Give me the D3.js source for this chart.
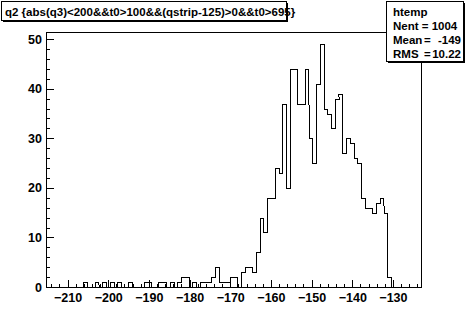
<!DOCTYPE html>
<html>
<head>
<meta charset="utf-8">
<script src="https://cdn.jsdelivr.net/npm/d3@7"></script>
<style>
body { margin: 0; background: #fff; }
text { font-family: "Liberation Sans", Arial, sans-serif; font-weight: bold; }
</style>
</head>
<body>
<script>

// histogram range (100 bins between these)
var binLow = -215.3, binHigh = -123.1;

// bin contents
var counts = [
    0, 0, 0, 0, 0, 0, 0, 0, 0, 0,
    1, 0, 0, 1, 0, 1, 0, 1, 0, 1,
    0, 0, 1, 0, 0, 0, 1, 1, 0, 0,
    1, 1, 0, 1, 0, 1, 2, 2, 0, 1,
    0, 1, 1, 1, 2, 4, 1, 1, 1, 2,
    2, 0, 3, 4, 4, 3, 7, 14, 11, 18,
    18, 24, 23, 37, 20, 44, 44, 37, 37, 44,
    30, 25, 41, 49, 36, 35, 32, 38, 39, 27,
    30, 29, 26, 25, 18, 16, 16, 15, 17, 18,
    15, 2, 0, 0, 0, 0, 0, 0, 0, 0
];

var xTicks = [-210, -200, -190, -180, -170, -160, -150, -140, -130];
var yTicks = [0, 10, 20, 30, 40, 50];

var histTitle = "q2 {abs(q3)<200&&t0>100&&(qstrip-125)>0&&t0>695}";
var histName = "htemp";
var statNames = ["Nent", "Mean", "RMS"];
var statValues = ["1004", "-149", "10.22"];

var W = 469, H = 320;
var frame = { left: 46, right: 421, top: 32, bottom: 287 };

var svg = d3.select("body").append("svg")
    .attr("width", W)
    .attr("height", H)
    .style("display", "block");

var x = d3.scaleLinear().domain([binLow, binHigh]).range([frame.left, frame.right]);
var yMax = d3.max(counts) * 1.05;
var y = d3.scaleLinear().domain([0, yMax]).range([frame.bottom, frame.top]);

// frame
svg.append('rect')
    .attr('x', frame.left + 0.5).attr('y', frame.top + 0.5)
    .attr('width', frame.right - frame.left).attr('height', frame.bottom - frame.top)
    .attr('fill', 'white').attr('stroke', 'black').attr('shape-rendering', 'crispEdges');

// histogram outline as steps
var binWidth = (binHigh - binLow) / counts.length;
var points = [[x(binLow), y(0)]];
counts.forEach(function (c, i) {
    var lo = binLow + i * binWidth;
    points.push([x(lo), y(c)]);
    points.push([x(lo + binWidth), y(c)]);
});
points.push([x(binHigh), y(0)]);

var lineGenerator = d3.line()
    .x(function (d) { return Math.round(d[0]) + 0.5; })
    .y(function (d) { return Math.round(d[1]) + 0.5; });

svg.append('path')
    .attr('d', lineGenerator(points))
    .attr('fill', 'none').attr('stroke', 'black').attr('stroke-width', 1)
    .attr('shape-rendering', 'crispEdges');

// axes, ticks pointing inwards
var xMinor = svg.append('g').attr('transform', 'translate(0,' + frame.bottom + ')')
    .call(d3.axisBottom(x).ticks(50).tickSize(-3.5).tickSizeOuter(0).tickFormat(''));
var xAxis = svg.append('g').attr('transform', 'translate(0,' + frame.bottom + ')')
    .call(d3.axisBottom(x).tickValues(xTicks).tickSize(-7).tickSizeOuter(0).tickPadding(6));

var yMinor = svg.append('g').attr('transform', 'translate(' + frame.left + ',0)')
    .call(d3.axisLeft(y).ticks(26).tickSize(-4).tickSizeOuter(0).tickFormat(''));
var yAxis = svg.append('g').attr('transform', 'translate(' + frame.left + ',0)')
    .call(d3.axisLeft(y).tickValues(yTicks).tickSize(-8).tickSizeOuter(0).tickPadding(4));

svg.selectAll('.tick line, .domain').attr('shape-rendering', 'crispEdges');
[xAxis, yAxis].forEach(function (g) {
    g.attr('font-family', null).attr('font-size', null);
    g.selectAll('text').attr('font-size', '12.5px').attr('fill', 'black');
});

// title box with shadow
svg.append('rect').attr('x', 3).attr('y', 3).attr('width', 285).attr('height', 19).attr('fill', 'black');
svg.append('rect').attr('x', 1.5).attr('y', 1.5).attr('width', 285).attr('height', 19)
    .attr('fill', 'white').attr('stroke', 'black').attr('shape-rendering', 'crispEdges');
svg.append('text').text(histTitle)
    .attr('x', 5).attr('y', 16).attr('font-size', '11.5px');

// stats box with shadow
var sb = { x: 386, y: 1, w: 77, h: 60 };
svg.append('rect').attr('x', sb.x + 2).attr('y', sb.y + 2).attr('width', sb.w).attr('height', sb.h).attr('fill', 'black');
svg.append('rect').attr('x', sb.x + 0.5).attr('y', sb.y + 0.5).attr('width', sb.w).attr('height', sb.h)
    .attr('fill', 'white').attr('stroke', 'black').attr('shape-rendering', 'crispEdges');

svg.append('text').text(histName).attr('x', sb.x + 7).attr('y', 16).attr('font-size', '11.5px');
for (var i = 0; i < statNames.length; i++) {
    var base = 30 + i * 14;
    if (i == 0) {
        svg.append('text').text(statNames[i] + ' = ' + statValues[i])
            .attr('x', sb.x + 7).attr('y', base).attr('font-size', '11.5px');
    } else {
        svg.append('text').text(statNames[i]).attr('x', sb.x + 7).attr('y', base).attr('font-size', '11.5px');
        svg.append('text').text('=').attr('x', sb.x + 38).attr('y', base).attr('font-size', '11.5px');
        svg.append('text').text(statValues[i]).attr('x', sb.x + 75).attr('y', base)
            .attr('text-anchor', 'end').attr('font-size', '11.5px');
    }
}

</script>
</body>
</html>
